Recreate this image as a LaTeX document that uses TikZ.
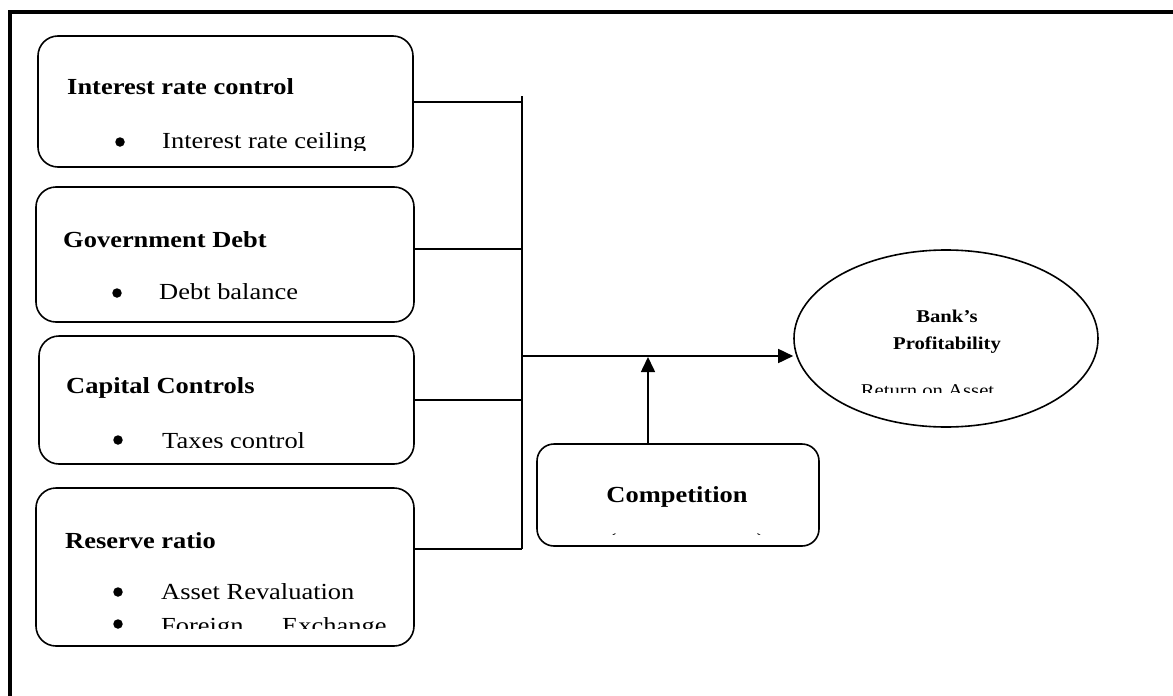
\documentclass[tikz,border=0pt]{standalone}
\usepackage{fontspec}
\setmainfont{Liberation Serif}
\usetikzlibrary{arrows.meta,shapes.geometric}
\tikzset{
  box/.style={draw, line width=1.6pt, rounded corners=20pt, inner sep=0pt},
  title/.style={inner sep=0pt, anchor=base west, font=\fontsize{23}{28}\selectfont\bfseries, xscale=1.15},
  item/.style={inner sep=0pt, anchor=base west, font=\fontsize{23}{28}\selectfont, xscale=1.15},
  small/.style={inner sep=0pt, anchor=base, font=\fontsize{18}{22}\selectfont, xscale=1.15},
  dot/.style={circle, fill, inner sep=0pt, minimum size=9.5pt},
  conn/.style={line width=1.6pt},
  arr/.style={line width=1.6pt, -{Triangle[length=15pt,width=14pt]}}
}
\begin{document}
\begin{tikzpicture}[x=1pt,y=-1pt]
\useasboundingbox (0,0) rectangle (1173,696);
% frame
\draw[line width=4pt] (1173,12) -- (10,12) -- (10,696);

% boxes
\node[box, minimum width=375pt, minimum height=131pt] (b1) at (225.5,101.5) {};
\node[box, minimum width=378pt, minimum height=135pt] (b2) at (225,254.5) {};
\node[box, minimum width=375pt, minimum height=128pt] (b3) at (226.5,400) {};
\node[box, minimum width=378pt, minimum height=158pt] (b4) at (225,567) {};
\node[box, rounded corners=17pt, minimum width=282pt, minimum height=102pt] (comp) at (678,495) {};
\node[draw, ellipse, line width=1.6pt, minimum width=304pt, minimum height=177pt, inner sep=0pt] (ell) at (946,338.5) {};

% box 1 text
\node[title] (t1) at (67,94) {Interest rate control};
\begin{scope}
\clip (40,100) rectangle (410,150);
\node[dot] (d1) at (120,142) {};
\node[item] (i1) at (162,148) {Interest rate ceiling};
\end{scope}

% box 2 text
\node[title] (t2) at (63,247) {Government Debt};
\node[dot] (d2) at (117,293) {};
\node[item] (i2) at (159,299) {Debt balance};

% box 3 text
\node[title] (t3) at (66,393) {Capital Controls};
\begin{scope}
\clip (40,400) rectangle (410,447);
\node[dot] (d3) at (118,440) {};
\node[item] (i3) at (162,448.5) {Taxes control};
\end{scope}

% box 4 text
\node[title] (t4) at (65,548) {Reserve ratio};
\node[dot] (d4) at (118,592) {};
\node[item] (i4) at (161,599) {Asset Revaluation};
\begin{scope}
\clip (40,605) rectangle (410,628);
\node[dot] (d5) at (118,624) {};
\node[item] (i5) at (161,633) {Foreign};
\node[item] (i6) at (282,633) {Exchange};
\end{scope}

% competition
\node[title, anchor=base] (tc) at (677,502) {Competition};
\begin{scope}
\clip (540,520) rectangle (815,534.5);
\node[item, anchor=base] (p1) at (612,549) {(};
\node[item, anchor=base] (p2) at (761,549) {)};
\end{scope}

% ellipse text
\node[small, font=\fontsize{18}{22}\selectfont\bfseries] (e1) at (947,322) {Bank’s};
\node[small, font=\fontsize{18}{22}\selectfont\bfseries] (e2) at (947,349) {Profitability};
\begin{scope}
\clip (840,370) rectangle (1010,392);
\node[small] (e3) at (927.5,396) {Return on Asset};
\end{scope}

% connectors
\coordinate (bt) at (522,96);
\coordinate (bb) at (522,549);
\coordinate (y1) at (522,102);
\coordinate (y2) at (522,249);
\coordinate (y3) at (522,400);
\coordinate (ym) at (522,356);
\coordinate (up) at (648,357);
\draw[conn] (bt) -- (bb);
\draw[conn] (y1 -| b1.east) -- (y1);
\draw[conn] (y2 -| b2.east) -- (y2);
\draw[conn] (y3 -| b3.east) -- (y3);
\draw[conn] (bb -| b4.east) -- (bb);
\draw[arr] (ym) -- (ym -| ell.west);
\draw[arr] (up |- comp.north) -- (up);
\end{tikzpicture}
\end{document}
